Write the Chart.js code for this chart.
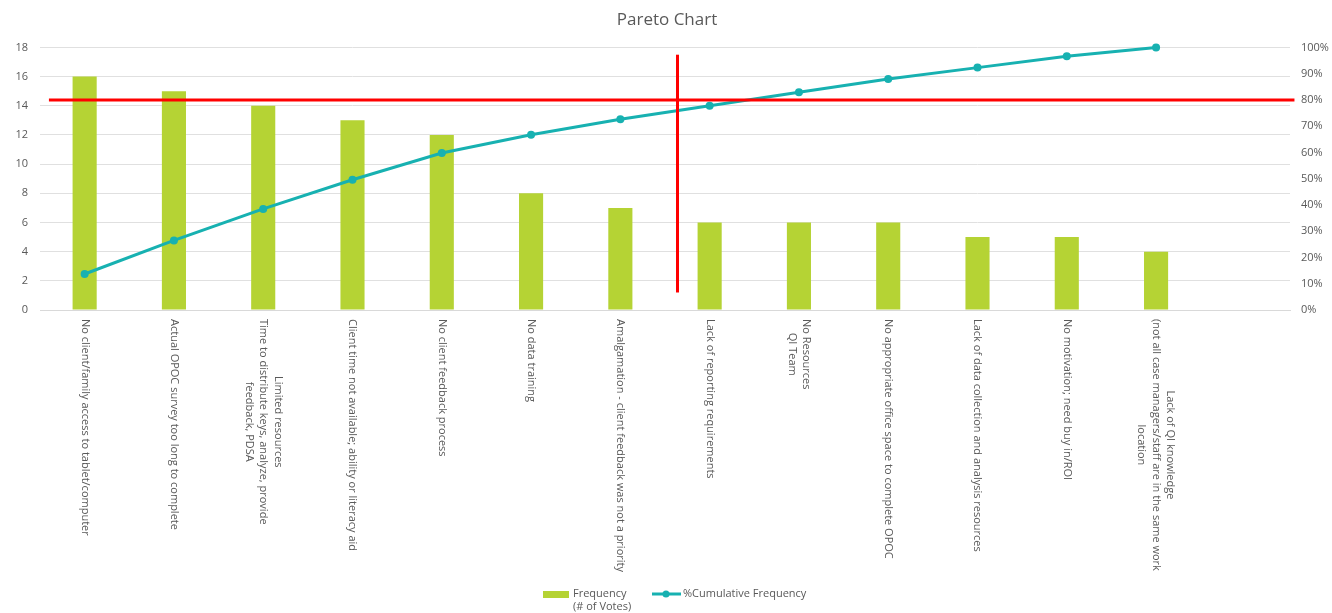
<!DOCTYPE html>
<html>
<head>
<meta charset="utf-8">
<title>Pareto Chart</title>
<script src="https://cdn.jsdelivr.net/npm/chart.js@4/dist/chart.umd.min.js"></script>
<style>
  html, body { margin: 0; padding: 0; background: #fff; }
  #wrap { width: 1332px; height: 613px; }
</style>
</head>
<body>
<div id="wrap"><canvas id="pareto"></canvas></div>
<script>
// Causas (las etiquetas de varias líneas van como arreglos)
const causas = [
  'No client/family access to tablet/computer',
  'Actual OPOC survey too long to complete',
  ['Limited resources', 'Time to distribute keys, analyze, provide', 'feedback, PDSA'],
  'Client time not available; ability or literacy aid',
  'No client feedback process',
  'No data training',
  'Amalgamation - client feedback was not a priority',
  'Lack of reporting requirements',
  ['No Resources', 'QI Team'],
  'No appropriate office space to complete OPOC',
  'Lack of data collection and analysis resources',
  'No motivation; need buy in/ROI',
  ['Lack of QI knowledge', '(not all case managers/staff are in the same work', 'location'],
  ''
];

// Votos por causa
const frecuencia = [16, 15, 14, 13, 12, 8, 7, 6, 6, 6, 5, 5, 4, null];

// Frecuencia acumulada en %
const acumulado = [13.7, 26.5, 38.5, 49.6, 59.8, 66.7, 72.6, 77.8, 82.9, 88.0, 92.3, 96.6, 100, null];

// Límites del eje izquierdo y del derecho
const votosMax = 18;
const votosPaso = 2;
const porcentajeMax = 100;
const porcentajePaso = 10;

// Línea de corte del 80% y separador vertical (en unidades de las escalas)
const corte80 = 80;
const corteX = { desde: -0.4, hasta: 13.55 };
const separador = { x: 6.64, desde: 1.2, hasta: 17.5 };

const gris = '#595959';
const verde = '#b5d334';
const turquesa = '#17b1b1';
const rojo = '#ff0000';
const fuente = '"Open Sans", sans-serif';

// Dibuja las etiquetas del eje X giradas 90° (se leen de arriba hacia abajo)
const etiquetasGiradas = {
  id: 'etiquetasGiradas',
  afterDraw(chart) {
    const ctx = chart.ctx;
    const xs = chart.scales.x;
    const top = xs.bottom + 1;
    const alto = 14.5;
    ctx.save();
    ctx.font = '11px ' + fuente;
    ctx.fillStyle = gris;
    ctx.textBaseline = 'middle';
    ctx.textAlign = 'center';
    causas.forEach((c, i) => {
      const lineas = Array.isArray(c) ? c : [c];
      const ancho = Math.max(...lineas.map(l => ctx.measureText(l).width));
      const x = xs.getPixelForValue(i);
      ctx.save();
      ctx.translate(x, top);
      ctx.rotate(Math.PI / 2);
      lineas.forEach((l, j) => {
        ctx.fillText(l, ancho / 2, (j - (lineas.length - 1) / 2) * alto);
      });
      ctx.restore();
    });
    ctx.restore();
  }
};

// Línea roja del 80% y separador vertical
const lineasRojas = {
  id: 'lineasRojas',
  afterDatasetsDraw(chart) {
    const ctx = chart.ctx;
    const xs = chart.scales.x, y = chart.scales.y, y1 = chart.scales.y1;
    ctx.save();
    ctx.strokeStyle = rojo;
    ctx.lineWidth = 3;
    ctx.beginPath();
    const yc = y1.getPixelForValue(corte80);
    ctx.moveTo(xs.getPixelForValue(corteX.desde), yc);
    ctx.lineTo(xs.getPixelForValue(corteX.hasta), yc);
    ctx.stroke();
    ctx.beginPath();
    const xv = xs.getPixelForValue(separador.x);
    ctx.moveTo(xv, y.getPixelForValue(separador.hasta));
    ctx.lineTo(xv, y.getPixelForValue(separador.desde));
    ctx.stroke();
    ctx.restore();
  }
};

// Leyenda propia (la primera entrada ocupa dos líneas)
const leyenda = {
  id: 'leyenda',
  afterDraw(chart) {
    const ctx = chart.ctx;
    const cx = chart.width / 2;
    const y = 594;
    ctx.save();
    ctx.font = '11px ' + fuente;
    ctx.fillStyle = verde;
    ctx.fillRect(cx - 123, y - 3, 26, 7);
    ctx.fillStyle = gris;
    ctx.textBaseline = 'middle';
    ctx.textAlign = 'left';
    ctx.fillText('Frequency', cx - 93, y);
    ctx.fillText('(# of Votes)', cx - 93, y + 13);
    ctx.strokeStyle = turquesa;
    ctx.lineWidth = 3;
    ctx.beginPath();
    ctx.moveTo(cx - 14, y);
    ctx.lineTo(cx + 15, y);
    ctx.stroke();
    ctx.fillStyle = turquesa;
    ctx.beginPath();
    ctx.arc(cx, y, 3.5, 0, Math.PI * 2);
    ctx.fill();
    ctx.fillStyle = gris;
    ctx.fillText('%Cumulative Frequency', cx + 17, y);
    ctx.restore();
  }
};

const ctx = document.getElementById('pareto').getContext('2d');
window.chart = new Chart(ctx, {
  type: 'bar',
  data: {
    labels: causas,
    datasets: [
      {
        type: 'line',
        label: '%Cumulative Frequency',
        data: acumulado,
        yAxisID: 'y1',
        borderColor: turquesa,
        backgroundColor: turquesa,
        borderWidth: 3,
        pointRadius: 4,
        pointBackgroundColor: turquesa,
        pointBorderWidth: 0,
        tension: 0,
        clip: false,
        order: 1
      },
      {
        type: 'bar',
        label: 'Frequency (# of Votes)',
        data: frecuencia,
        yAxisID: 'y',
        backgroundColor: verde,
        categoryPercentage: 1,
        barPercentage: 0.27,
        order: 2
      }
    ]
  },
  options: {
    responsive: true,
    maintainAspectRatio: false,
    animation: false,
    layout: { padding: { left: 2, right: 0, top: 0, bottom: 295 } },
    plugins: {
      legend: { display: false },
      tooltip: { enabled: false },
      title: {
        display: true,
        text: 'Pareto Chart',
        color: gris,
        font: { family: fuente, size: 17, weight: 'normal' },
        padding: { top: 10, bottom: 17 }
      }
    },
    scales: {
      x: {
        ticks: { display: false },
        grid: { display: false },
        border: { display: true, color: '#d9d9d9' }
      },
      y: {
        position: 'left',
        min: 0,
        max: votosMax,
        ticks: { stepSize: votosPaso, color: gris, font: { family: fuente, size: 11 }, padding: 12 },
        grid: { color: '#e0e0e0', drawTicks: false },
        border: { display: false },
        afterFit: s => { s.width = 38; }
      },
      y1: {
        position: 'right',
        min: 0,
        max: porcentajeMax,
        ticks: {
          stepSize: porcentajePaso,
          color: gris,
          font: { family: fuente, size: 11 },
          padding: 11,
          callback: v => v + '%'
        },
        grid: { display: false, drawTicks: false },
        border: { display: false },
        afterFit: s => { s.width = 42; }
      }
    }
  },
  plugins: [etiquetasGiradas, lineasRojas, leyenda]
});
</script>
</body>
</html>
